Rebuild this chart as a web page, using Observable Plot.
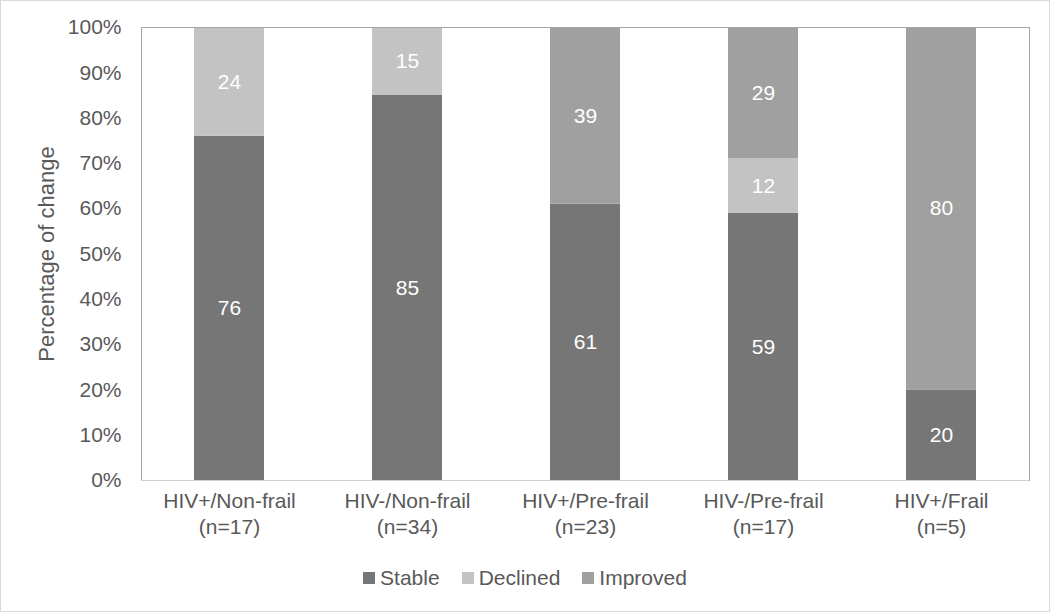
<!DOCTYPE html>
<html>
<head>
<meta charset="utf-8">
<script src="https://cdn.jsdelivr.net/npm/d3@7"></script>
<script src="https://cdn.jsdelivr.net/npm/@observablehq/plot@0.6"></script>
<style>
  body { margin: 0; background: #fff; }
  #wrap { position: relative; width: 1050px; height: 612px; box-sizing: border-box; border: 1px solid #d9d9d9; background: #fff; font-family: "Liberation Sans", Arial, sans-serif; }
  #legend { position: absolute; left: 0; right: 0; top: 565px; display: flex; justify-content: center; gap: 22px; font-size: 21px; color: #595959; line-height: 24px; }
  #legend .item { display: flex; align-items: center; }
  #legend .sw { width: 12px; height: 12px; margin-right: 5px; display: inline-block; }
</style>
</head>
<body>
<div id="wrap"><div id="chart"></div><div id="legend"></div></div>
<script>
const groups = ["HIV+/Non-frail\n(n=17)", "HIV-/Non-frail\n(n=34)", "HIV+/Pre-frail\n(n=23)", "HIV-/Pre-frail\n(n=17)", "HIV+/Frail\n(n=5)"];
const seriesNames = ["Stable", "Declined", "Improved"];
const seriesColors = ["#767676", "#c3c3c3", "#a0a0a0"];
const stable = [76, 85, 61, 59, 20];
const declined = [24, 15, 0, 12, 0];
const improved = [0, 0, 39, 29, 80];
const yTicks = [0, 10, 20, 30, 40, 50, 60, 70, 80, 90, 100];

const seriesValues = [stable, declined, improved];
const data = [];
seriesNames.forEach((s, si) => groups.forEach((g, gi) => data.push({group: g, series: s, value: seriesValues[si][gi]})));
const labelData = data.filter(d => d.value > 0);

const textColor = "#595959";
const chart = Plot.plot({
  width: 1048,
  height: 545,
  marginTop: 26,
  marginBottom: 66,
  marginLeft: 140,
  marginRight: 20,
  style: {fontFamily: "'Liberation Sans', Arial, sans-serif", fontSize: "21px", color: textColor, background: "#fff"},
  x: {domain: groups, paddingInner: 0.605, paddingOuter: 0.29, label: null},
  y: {domain: [0, 100], label: null},
  color: {domain: seriesNames, range: seriesColors},
  marks: [
    Plot.barY(data, Plot.stackY({x: "group", y: "value", z: "series", fill: "series", order: seriesNames})),
    Plot.text(labelData, Plot.stackY({x: "group", y: "value", z: "series", text: d => String(d.value), fill: "white", fontSize: 21, order: seriesNames})),
    Plot.frame({stroke: "#a6a6a6"}),
    Plot.ruleY([0], {stroke: "#d0d0d0"}),
    Plot.axisY({ticks: yTicks, tickFormat: d => d + "%", tickSize: 0, tickPadding: 20, fontSize: 21, label: null}),
    Plot.axisX({tickSize: 0, tickPadding: 9, fontSize: 21, lineHeight: 1.25, label: null}),
    Plot.text(["Percentage of change"], {frameAnchor: "left", textAnchor: "middle", dx: -95, rotate: -90, fontSize: 22, fill: textColor})
  ]
});
document.getElementById("chart").appendChild(chart);

const legend = document.getElementById("legend");
seriesNames.forEach((s, i) => {
  const item = document.createElement("div");
  item.className = "item";
  const sw = document.createElement("span");
  sw.className = "sw";
  sw.style.background = seriesColors[i];
  const t = document.createElement("span");
  t.textContent = s;
  item.appendChild(sw); item.appendChild(t);
  legend.appendChild(item);
});
</script>
</body>
</html>
